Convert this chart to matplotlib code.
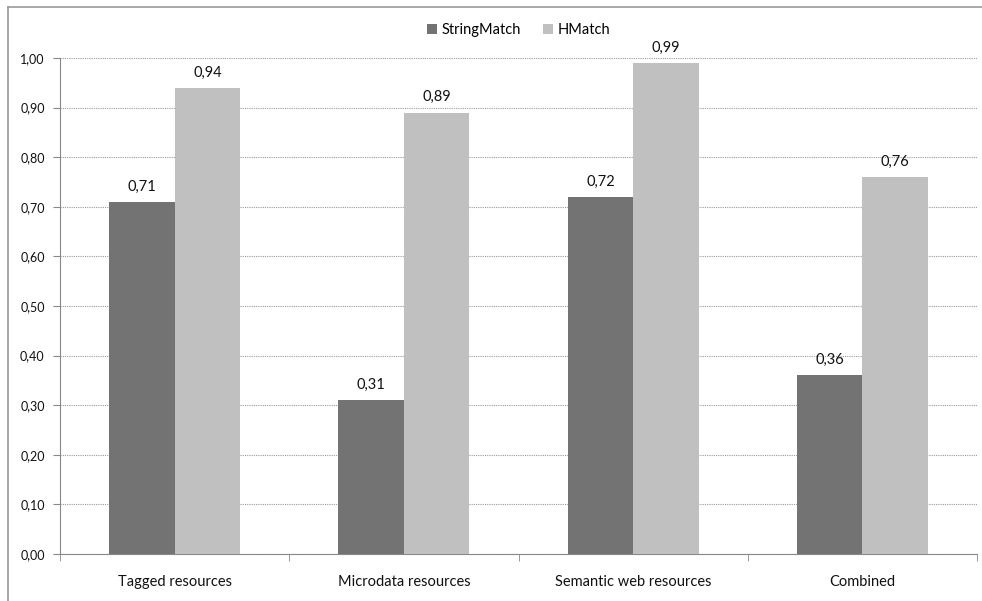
import matplotlib.pyplot as plt
import numpy as np
from matplotlib.lines import Line2D

categories = ["Tagged resources", "Microdata resources", "Semantic web resources", "Combined"]
string_match = [0.71, 0.31, 0.72, 0.36]
hmatch = [0.94, 0.89, 0.99, 0.76]
series_names = ["StringMatch", "HMatch"]

plt.rcParams["font.family"] = ["Lato", "DejaVu Sans"]

fig = plt.figure(figsize=(9.82, 6.01), dpi=100)
ax = fig.add_axes([0.0611, 0.0782, 0.9339, 0.8253])

x = np.arange(len(categories))
w = 0.286
b1 = ax.bar(x - w / 2, string_match, w, color="#737373", label=series_names[0], zorder=3)
b2 = ax.bar(x + w / 2, hmatch, w, color="#c0c0c0", label=series_names[1], zorder=3)

for bars, vals in ((b1, string_match), (b2, hmatch)):
    for rect, v in zip(bars, vals):
        ax.annotate(f"{v:.2f}".replace(".", ","),
                    (rect.get_x() + rect.get_width() / 2, v),
                    xytext=(0, 6), textcoords="offset points",
                    ha="center", va="bottom", fontsize=10.5, color="#111111")

ax.set_xlim(-0.5, len(categories) - 0.5)
ax.set_ylim(0, 1.0)
yt = np.arange(0, 1.01, 0.1)
ax.set_yticks(yt)
ax.set_yticklabels([f"{t:.2f}".replace(".", ",") for t in yt], fontsize=9, color="#111111")
ax.yaxis.grid(True, linestyle=(0, (1, 1)), color="#9a9a9a", linewidth=0.8, zorder=0)

# category labels centred, ticks on the group boundaries
ax.set_xticks(x)
ax.set_xticklabels(categories, fontsize=10.5, color="#111111")
ax.tick_params(axis="x", length=0, pad=15)
ax.set_xticks(np.arange(-0.5, len(categories)), minor=True)
ax.tick_params(axis="x", which="minor", length=5, color="#888888")
ax.tick_params(axis="y", length=5, color="#888888", pad=6)

for s in ("top", "right"):
    ax.spines[s].set_visible(False)
for s in ("left", "bottom"):
    ax.spines[s].set_color("#888888")

ax.legend(loc="center", bbox_to_anchor=(0.5, 1.056), ncol=2, frameon=False,
          fontsize=10.5, handlelength=0.7, handleheight=0.7, handletextpad=0.3,
          columnspacing=1.5)

# outer frame
fig.add_artist(Line2D([0.008, 1.0], [0.988, 0.988], color="#999999", linewidth=1.2,
                      transform=fig.transFigure))
fig.add_artist(Line2D([0.008, 0.008], [0.0, 0.988], color="#999999", linewidth=1.2,
                      transform=fig.transFigure))

fig.savefig("out.png", dpi=100)
